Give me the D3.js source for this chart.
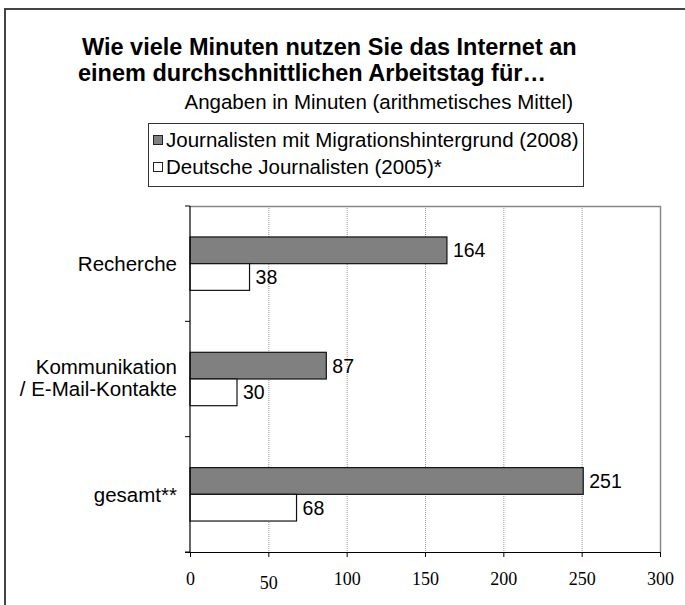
<!DOCTYPE html>
<html>
<head>
<meta charset="utf-8">
<script src="https://cdn.jsdelivr.net/npm/d3@7/dist/d3.min.js"></script>
<style>
  html, body { margin: 0; padding: 0; background: #fff; }
  svg { display: block; }
  text { font-family: "Liberation Sans", Arial, sans-serif; fill: #000; }
  text.serif { font-family: "Liberation Serif", "Times New Roman", serif; }
</style>
</head>
<body>
<svg id="chart" width="685" height="605"></svg>
<script>
const categories = ["Recherche", "Kommunikation\n/ E-Mail-Kontakte", "gesamt**"];
const seriesNames = ["Journalisten mit Migrationshintergrund (2008)", "Deutsche Journalisten (2005)*"];
const migrationValues = [164, 87, 251];
const deutscheValues = [38, 30, 68];
const xTicks = [0, 50, 100, 150, 200, 250, 300];
const titleLines = ["Wie viele Minuten nutzen Sie das Internet an", "einem durchschnittlichen Arbeitstag für…"];
const subtitle = "Angaben in Minuten (arithmetisches Mittel)";
const seriesColors = ["#808080", "#ffffff"];

(function () {
const svg = d3.select("#chart");

// outer frame (top & left visible)
svg.append("path")
  .attr("d", "M5,605 L5,9 L685,9")
  .attr("fill", "none").attr("stroke", "#444").attr("stroke-width", 2);

// title
svg.append("g").selectAll("text").data(titleLines).join("text")
  .attr("x", (d, i) => i === 0 ? 82 : 78)
  .attr("y", (d, i) => 55 + i * 26)
  .attr("font-size", 23.5).attr("font-weight", "bold")
  .text(d => d);

svg.append("text")
  .attr("x", 573).attr("y", 109)
  .attr("text-anchor", "end")
  .attr("font-size", 20.5)
  .text(subtitle);

// legend
const lg = svg.append("g");
lg.append("rect").attr("x", 148.5).attr("y", 123.5).attr("width", 435).attr("height", 63)
  .attr("fill", "#fff").attr("stroke", "#333").attr("stroke-width", 1);
const li = lg.selectAll("g.item").data(seriesNames).join("g").attr("class", "item")
  .attr("transform", (d, i) => `translate(153,${140 + i * 27})`);
li.append("rect").attr("x", 0.5).attr("y", -4.5).attr("width", 9).attr("height", 9)
  .attr("fill", (d, i) => seriesColors[i]).attr("stroke", "#222").attr("stroke-width", 1);
li.append("text").attr("x", 13).attr("y", 0).attr("dy", "0.35em")
  .attr("font-size", 20.5).text(d => d);

// plot
const pLeft = 190, pRight = 660, pTop = 206, pBottom = 552;
const x = d3.scaleLinear().domain([0, 300]).range([pLeft, pRight]);
const y = d3.scaleBand().domain(d3.range(categories.length)).range([pTop, pBottom]).padding(0);
const inner = d3.scaleBand().domain([0, 1]).range([0, y.bandwidth()]).paddingInner(0).paddingOuter(1.16);

// gridlines
svg.append("g").selectAll("line").data(xTicks.filter(t => t > 0 && t < 300)).join("line")
  .attr("x1", d => x(d) + 0.5).attr("x2", d => x(d) + 0.5)
  .attr("y1", pTop).attr("y2", pBottom)
  .attr("stroke", "#999").attr("stroke-width", 1).attr("stroke-dasharray", "1,1");
// plot border top & right
svg.append("path")
  .attr("d", `M${pLeft},${pTop + 0.5} L${pRight + 0.5},${pTop + 0.5} L${pRight + 0.5},${pBottom}`)
  .attr("fill", "none").attr("stroke", "#888").attr("stroke-width", 1.5);

// bars
const data = categories.map((c, i) => ({ i, vals: [migrationValues[i], deutscheValues[i]] }));
const groups = svg.append("g").selectAll("g").data(data).join("g")
  .attr("transform", d => `translate(0,${y(d.i)})`);
groups.selectAll("rect").data(d => d.vals.map((v, s) => ({ v, s }))).join("rect")
  .attr("x", x(0)).attr("y", d => inner(d.s))
  .attr("width", d => x(d.v) - x(0)).attr("height", inner.bandwidth())
  .attr("fill", d => seriesColors[d.s]).attr("stroke", "#111").attr("stroke-width", 1.2);
groups.selectAll("text").data(d => d.vals.map((v, s) => ({ v, s }))).join("text")
  .attr("x", d => x(d.v) + 6).attr("y", d => inner(d.s) + inner.bandwidth() / 2)
  .attr("dy", "0.36em").attr("font-size", 19.5)
  .text(d => d.v);

// y axis
const yAxisG = svg.append("g");
yAxisG.append("line").attr("x1", pLeft).attr("x2", pLeft).attr("y1", pTop).attr("y2", pBottom)
  .attr("stroke", "#000").attr("stroke-width", 1.2);
const boundaries = d3.range(categories.length + 1).map(i => i < categories.length ? y(i) : pBottom);
yAxisG.selectAll("line.tk").data(boundaries).join("line").attr("class", "tk")
  .attr("x1", pLeft - 5).attr("x2", pLeft).attr("y1", d => d).attr("y2", d => d)
  .attr("stroke", "#000").attr("stroke-width", 1);
const catLabels = yAxisG.selectAll("text").data(categories).join("text")
  .attr("text-anchor", "end").attr("font-size", 20.5)
  .attr("transform", (d, i) => `translate(177,${y(i) + y.bandwidth() / 2})`);
catLabels.each(function (d) {
  const lines = d.split("\n");
  const t = d3.select(this);
  lines.forEach((ln, k) => {
    t.append("tspan").attr("x", 0)
      .attr("y", (k - (lines.length - 1) / 2) * 22 - (lines.length > 1 ? 1.5 : 0))
      .attr("dy", "0.35em").text(ln);
  });
});

// x axis
const xAxis = d3.axisBottom(x).tickValues(xTicks).tickSize(5).tickPadding(8).tickFormat(d3.format("d"));
const xg = svg.append("g").attr("transform", `translate(0,${pBottom})`).call(xAxis);
xg.select(".domain").remove();
xg.append("line").attr("x1", pLeft - 5).attr("x2", pRight).attr("y1", 0.5).attr("y2", 0.5)
  .attr("stroke", "#000").attr("stroke-width", 1.2);
xg.selectAll(".tick line").attr("stroke", "#000");
xg.selectAll(".tick text")
  .attr("class", "serif")
  .attr("font-size", 18).attr("fill", "#000")
  .attr("dy", d => d === 50 ? "1.35em" : "1.12em");
})();
</script>
</body>
</html>
